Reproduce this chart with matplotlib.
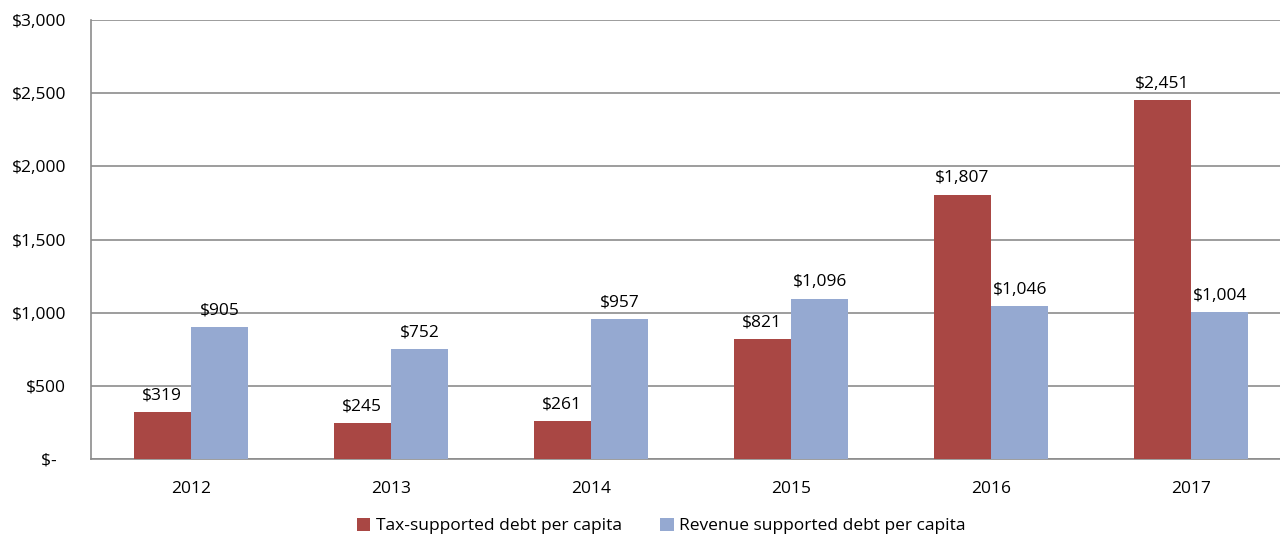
import numpy as np
import matplotlib.pyplot as plt

years = ["2012", "2013", "2014", "2015", "2016", "2017"]
tax_supported = [319, 245, 261, 821, 1807, 2451]
revenue_supported = [905, 752, 957, 1096, 1046, 1004]
y_ticks = [0, 500, 1000, 1500, 2000, 2500, 3000]
y_tick_labels = ["$-\u00a0\u00a0", "$500", "$1,000", "$1,500", "$2,000", "$2,500", "$3,000"]

RED = "#A94744"
BLUE = "#95A9D1"
GRID = "#8C8C8C"
FS = 12.5

plt.rcParams["font.family"] = ["Open Sans", "DejaVu Sans"]

fig = plt.figure(figsize=(12.8, 5.35), dpi=100)
# axes runs past the right edge of the figure, as in the reference
ax = fig.add_axes([91 / 1280, 1 - 459 / 535, 1200 / 1280, 439 / 535])

x = np.arange(len(years))
w = 0.287
b1 = ax.bar(x - w / 2, tax_supported, w, color=RED, label="Tax-supported debt per capita", zorder=3)
b2 = ax.bar(x + w / 2, revenue_supported, w, color=BLUE, label="Revenue supported debt per capita", zorder=3)

for bars, vals in ((b1, tax_supported), (b2, revenue_supported)):
    for rect, v in zip(bars, vals):
        ax.annotate(f"${v:,}", (rect.get_x() + rect.get_width() / 2, v),
                    xytext=(0, 6), textcoords="offset points",
                    ha="center", va="bottom", fontsize=FS, color="black")

ax.set_xlim(-0.5, len(years) - 0.5)
ax.set_ylim(0, 3000)
ax.set_yticks(y_ticks)
ax.set_yticklabels(y_tick_labels, fontsize=FS)
ax.set_xticks(x)
ax.set_xticklabels(years, fontsize=FS)
ax.tick_params(axis="y", length=0, pad=18)
ax.tick_params(axis="x", length=0, pad=16)

ax.grid(axis="y", color=GRID, linewidth=1.2, zorder=0)
for side in ("top", "right"):
    ax.spines[side].set_visible(False)
for side in ("left", "bottom"):
    ax.spines[side].set_color(GRID)
    ax.spines[side].set_linewidth(1.2)

fig.legend(loc="center", bbox_to_anchor=(661 / 1280, 1 - 526 / 535), ncol=2,
           frameon=False, fontsize=FS, handlelength=0.8, handleheight=0.8,
           handletextpad=0.3, columnspacing=2.2)

fig.savefig("out.png", dpi=100)
